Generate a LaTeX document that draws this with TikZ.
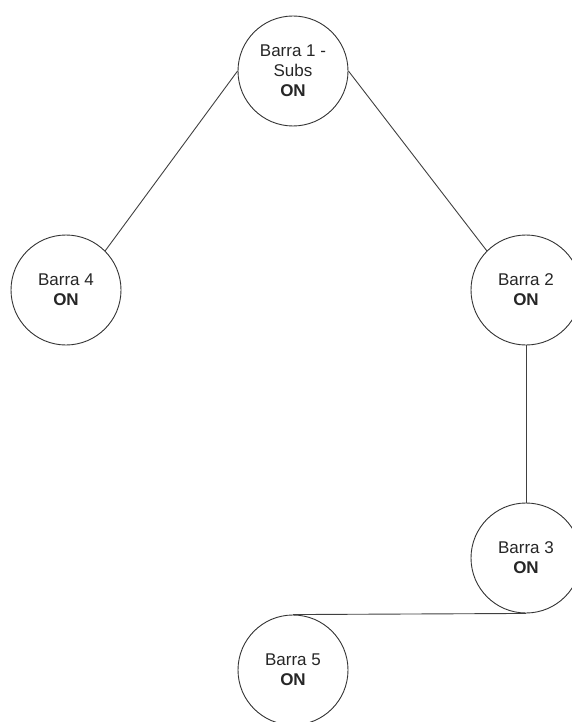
\documentclass[tikz,border=0pt]{standalone}
\usepackage{fontspec}
\setmainfont{Liberation Sans}
\begin{document}
\begin{tikzpicture}[x=1pt,y=-1pt,
  bus/.style={circle, draw=black!80, line width=0.9pt, minimum size=110pt,
    inner sep=0pt, align=center, text=black!85,
    font=\fontsize{17}{20}\selectfont},
  link/.style={draw=black!75, line width=0.9pt}]
\useasboundingbox (0,0) rectangle (571,722);
% bus nodes
\node[bus] (b1) at (293,71)  {Barra 1 -\\Subs\\\textbf{ON}};
\node[bus] (b4) at (66,290)  {Barra 4\\\textbf{ON}};
\node[bus] (b2) at (526,290) {Barra 2\\\textbf{ON}};
\node[bus] (b3) at (526,558) {Barra 3\\\textbf{ON}};
\node[bus] (b5) at (293,670) {Barra 5\\\textbf{ON}};
% feeder lines
\draw[link] (b1.west) -- (b4.north east);
\draw[link] (b1.east) -- (b2.north west);
\draw[link] (b2.south) -- (b3.north);
\draw[link] (b3.south) -- (b5.north);
\end{tikzpicture}
\end{document}
